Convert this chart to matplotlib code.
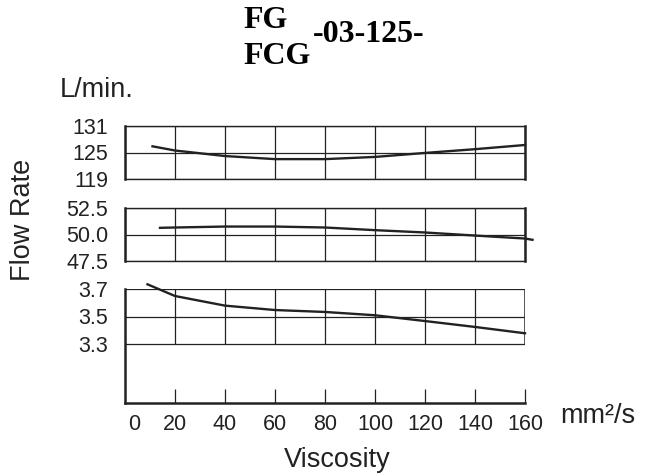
import matplotlib.pyplot as plt
from matplotlib.transforms import ScaledTranslation

# values
visc_top = [11, 20, 40, 60, 80, 100, 120, 140, 160]
flow_top = [126.4, 125.45, 124.2, 123.5, 123.5, 124.0, 124.9, 125.75, 126.7]
visc_mid = [14, 20, 40, 60, 80, 100, 120, 140, 160, 163]
flow_mid = [50.63, 50.66, 50.75, 50.75, 50.66, 50.41, 50.19, 49.9, 49.62, 49.5]
visc_low = [9, 20, 40, 60, 80, 100, 120, 140, 160]
flow_low = [3.734, 3.649, 3.579, 3.547, 3.533, 3.509, 3.467, 3.424, 3.378]

yticks_top = [119, 125, 131]
yticks_mid = [47.5, 50.0, 52.5]
yticks_low = [3.3, 3.5, 3.7]
ylabels_mid = ['47.5', '50.0', '52.5']
xticks = [0, 20, 40, 60, 80, 100, 120, 140, 160]

plt.rcParams['font.family'] = ['Liberation Sans', 'DejaVu Sans']
ink = '#222222'
W, H = 649, 474
tick_fs = 15.5
label_fs = 19.5

fig = plt.figure(figsize=(W / 100, H / 100), dpi=100)


def box(px_top, px_bot):
    return [125 / W, 1 - px_bot / H, 400 / W, (px_bot - px_top) / H]


def boxed_panel(rect, x, y, yt, ylabels=None):
    ax = fig.add_axes(rect)
    ax.plot(x, y, color=ink, lw=1.7, clip_on=False, zorder=3)
    ax.set_xlim(0, 160)
    ax.set_ylim(yt[0], yt[-1])
    ax.set_xticks(xticks)
    ax.set_xticklabels([])
    ax.set_yticks(yt)
    ax.set_yticklabels(ylabels if ylabels else [str(v) for v in yt])
    ax.tick_params(length=0, labelsize=tick_fs, colors=ink, pad=12)
    ax.grid(True, color=ink, lw=0.9)
    for side, sp in ax.spines.items():
        sp.set_color(ink)
        sp.set_linewidth(1.8 if side in ('left', 'right') else 1.0)
    return ax


boxed_panel(box(126, 179), visc_top, flow_top, yticks_top)
boxed_panel(box(208, 261), visc_mid, flow_mid, yticks_mid, ylabels_mid)

# bottom panel: grid only over 3.3..3.7, axis runs down to the x scale
ax = fig.add_axes(box(289, 403))
ylow = 3.3 - (403 - 344) / (344 - 289) * 0.4
ax.set_xlim(0, 160)
ax.set_ylim(ylow, 3.7)
ax.plot(visc_low, flow_low, color=ink, lw=1.7, clip_on=False, zorder=3)
ax.hlines(yticks_low, 0, 160, color=ink, lw=0.9)
ax.vlines(xticks[1:-1], yticks_low[0], yticks_low[-1], color=ink, lw=0.9)
ax.vlines(160, yticks_low[0], yticks_low[-1], color=ink, lw=1.8)
ax.spines['top'].set_visible(False)
ax.spines['right'].set_visible(False)
ax.spines['left'].set_linewidth(1.8)
ax.spines['bottom'].set_linewidth(1.8)
for sp in ax.spines.values():
    sp.set_color(ink)
ax.set_yticks(yticks_low)
ax.set_yticklabels([str(v) for v in yticks_low])
ax.tick_params(axis='y', length=0, labelsize=tick_fs, colors=ink, pad=12)
ax.set_xticks(xticks)
ax.set_xticklabels([str(v) for v in xticks])
ax.tick_params(axis='x', direction='in', length=10, width=0.9, colors=ink,
               labelsize=tick_fs, pad=8)
first = ax.get_xticklabels()[0]
first.set_transform(first.get_transform() + ScaledTranslation(0.09, 0, fig.dpi_scale_trans))
ax.xaxis.get_major_ticks()[0].tick1line.set_visible(False)

fig.text(60 / W, 1 - 90 / H, 'L/min.', ha='left', va='center', fontsize=label_fs, color=ink)
fig.text(23 / W, 1 - 220 / H, 'Flow Rate', ha='center', va='center', rotation=90,
         fontsize=label_fs, color=ink)
fig.text(598 / W, 1 - 423 / H, 'mm²/s', ha='center', va='baseline', fontsize=label_fs, color=ink)
fig.text(337 / W, 1 - 467 / H, 'Viscosity', ha='center', va='baseline', fontsize=label_fs, color=ink)

serif = dict(family='Liberation Serif', weight='bold', fontsize=23, color='black')
fig.text(243 / W, 1 - 20 / H, 'FG', ha='left', va='center', **serif)
fig.text(243 / W, 1 - 57 / H, 'FCG', ha='left', va='center', **serif)
fig.text(313 / W, 1 - 34 / H, '-03-125-', ha='left', va='center', **serif)

fig.savefig('out.png', dpi=100)
